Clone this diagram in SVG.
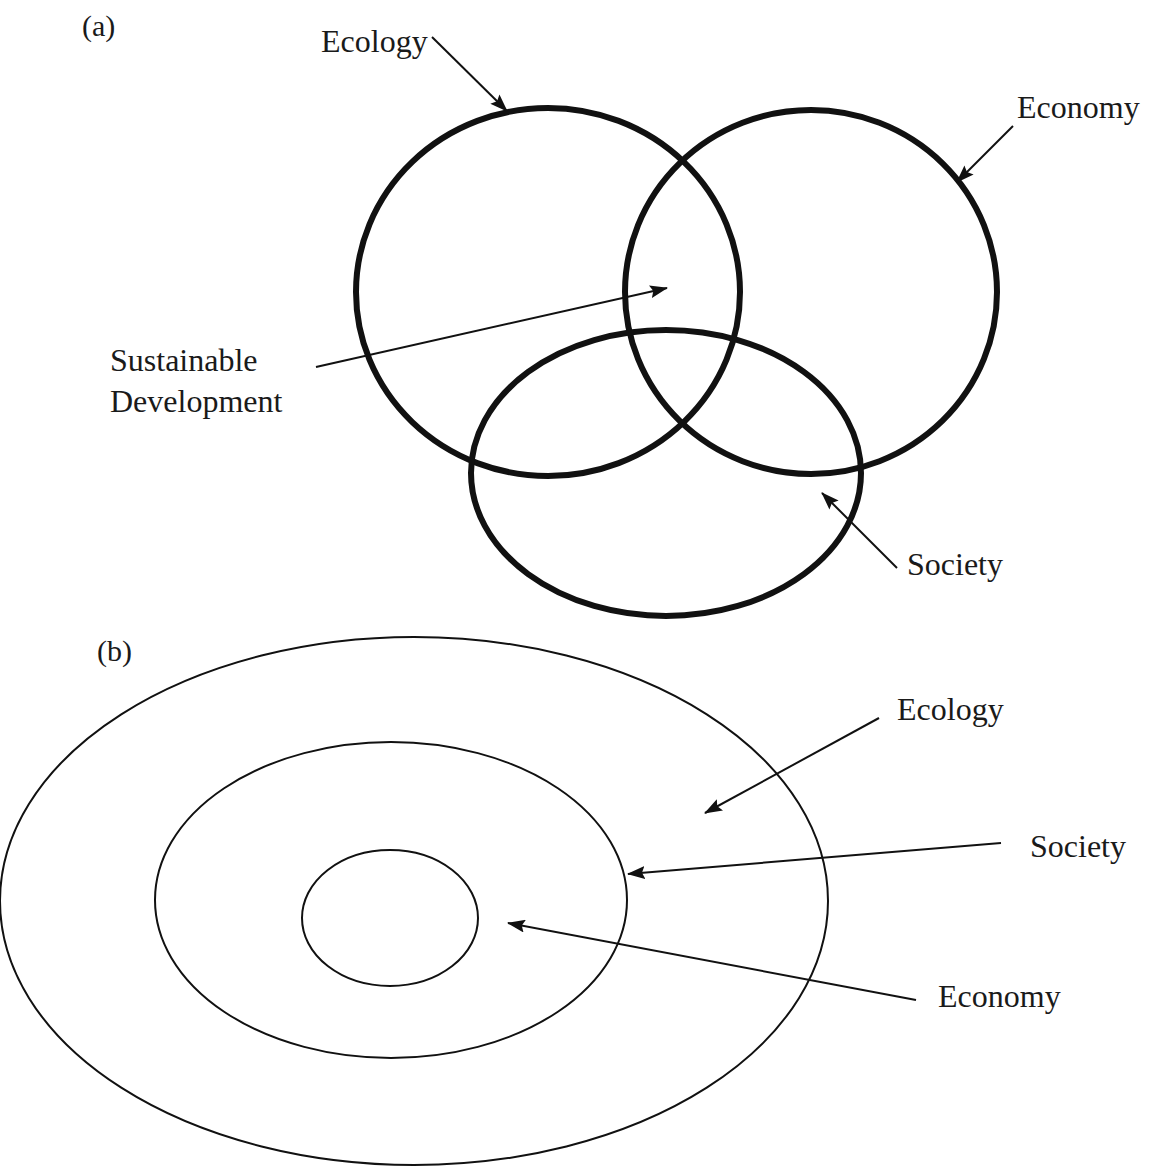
<svg xmlns="http://www.w3.org/2000/svg" width="1151" height="1176" viewBox="0 0 1151 1176">
  <style>
    text { font-family: "Liberation Serif", "Times New Roman", serif; fill: #1a1a1a; font-size: 32px; }
    .tag { font-size: 30px; }
    .ring-a { fill: none; stroke: #111; stroke-width: 6; }
    .ring-b { fill: none; stroke: #111; stroke-width: 2; }
    .conn { stroke: #111; stroke-width: 2; fill: none; marker-end: url(#head); }
  </style>
  <defs>
    <marker id="head" viewBox="0 0 18 13" refX="17" refY="6.5" markerWidth="18" markerHeight="13" markerUnits="userSpaceOnUse" orient="auto">
      <path d="M0,0 L18,6.5 L0,13 L3,6.5 Z" fill="#111"/>
    </marker>
  </defs>
  <rect width="1151" height="1176" fill="#fff"/>

  <!-- (a) overlapping circles -->
  <text class="tag" x="82" y="36">(a)</text>
  <g id="a-ecology">
    <ellipse class="ring-a" cx="548" cy="292" rx="192" ry="184"/>
    <text x="321" y="52">Ecology</text>
  </g>
  <g id="a-economy">
    <ellipse class="ring-a" cx="811" cy="292" rx="186" ry="182"/>
    <text x="1017" y="118">Economy</text>
  </g>
  <g id="a-society">
    <ellipse class="ring-a" cx="666" cy="473" rx="195" ry="143"/>
    <text x="907" y="575">Society</text>
  </g>
  <g id="a-sustainable">
    <text x="110" y="371" font-size="31">Sustainable</text>
    <text x="110" y="412" font-size="31">Development</text>
  </g>

  <!-- (b) nested ellipses -->
  <text class="tag" x="97" y="661">(b)</text>
  <g id="b-ecology">
    <ellipse class="ring-b" cx="414" cy="901" rx="414" ry="264"/>
    <text x="897" y="720">Ecology</text>
  </g>
  <g id="b-society">
    <ellipse class="ring-b" cx="391" cy="900" rx="236" ry="158"/>
    <text x="1030" y="857">Society</text>
  </g>
  <g id="b-economy">
    <ellipse class="ring-b" cx="390" cy="918" rx="88" ry="68"/>
    <text x="938" y="1007">Economy</text>
  </g>

  <g id="connectors">
    <line class="conn" x1="432" y1="37" x2="507" y2="111"/>
    <line class="conn" x1="1013" y1="126" x2="957" y2="182"/>
    <line class="conn" x1="316" y1="367" x2="667" y2="288"/>
    <line class="conn" x1="897" y1="568" x2="822" y2="493"/>
    <line class="conn" x1="879" y1="718" x2="705" y2="813"/>
    <line class="conn" x1="1001" y1="843" x2="628" y2="874"/>
    <line class="conn" x1="916" y1="1000" x2="508" y2="923"/>
  </g>
</svg>
